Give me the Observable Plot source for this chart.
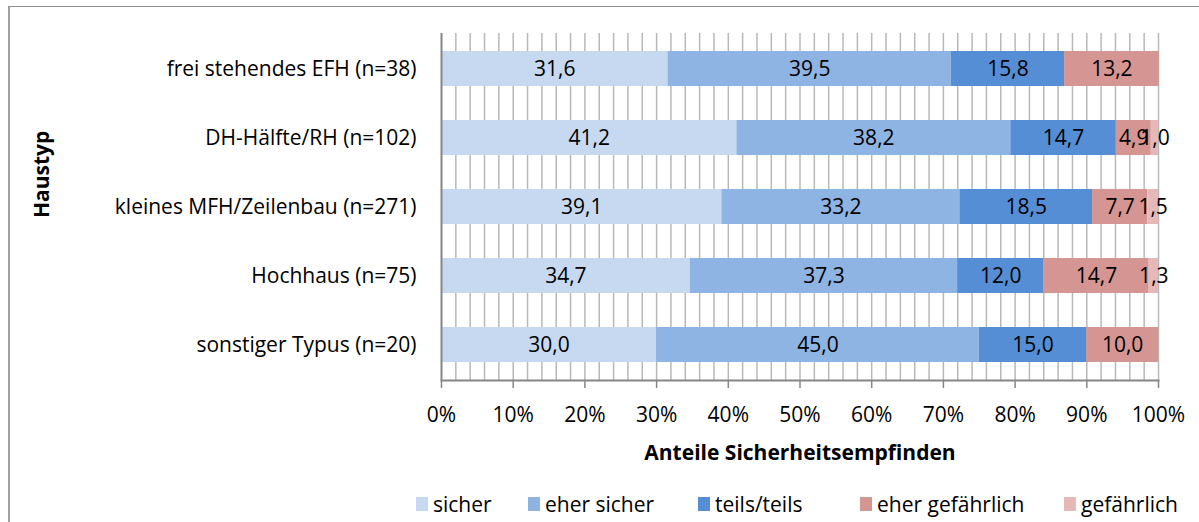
<!DOCTYPE html>
<html>
<head>
<meta charset="utf-8">
<script src="https://cdn.jsdelivr.net/npm/d3@7"></script>
<script src="https://cdn.jsdelivr.net/npm/@observablehq/plot@0.6"></script>
<style>
  html, body { margin: 0; padding: 0; background: #fff; }
  #wrap { position: relative; width: 1199px; height: 522px; overflow: hidden; font-family: "Open Sans", Lato, sans-serif; }
  #border { position: absolute; left: 8px; top: 6px; width: 1400px; height: 700px; border-left: 2px solid #a0a0a0; border-top: 1px solid #909090; }
  #chart { position: absolute; left: 0; top: 0; }
  #legend { position: absolute; left: 0; top: 489px; width: 1199px; height: 30px; font-size: 21px; color: #000; white-space: nowrap; }
  #legend .item { position: absolute; top: 0; display: flex; align-items: center; height: 30px; }
  #legend .sw { width: 12px; height: 14px; margin-right: 5px; }
</style>
</head>
<body>
<div id="wrap">
  <div id="border"></div>
  <div id="chart"></div>
  <div id="legend"></div>
</div>
<script>
const categories = ["frei stehendes EFH (n=38)", "DH-Hälfte/RH (n=102)", "kleines MFH/Zeilenbau (n=271)", "Hochhaus (n=75)", "sonstiger Typus (n=20)"];
const levels = ["sicher", "eher sicher", "teils/teils", "eher gefährlich", "gefährlich"];
const sicher     = [31.6, 41.2, 39.1, 34.7, 30.0];
const eherSicher = [39.5, 38.2, 33.2, 37.3, 45.0];
const teils      = [15.8, 14.7, 18.5, 12.0, 15.0];
const eherGef    = [13.2, 4.9, 7.7, 14.7, 10.0];
const gef        = [0, 1.0, 1.5, 1.3, 0];
const colors = ["#c6d9f1", "#8eb4e3", "#558ed5", "#d59592", "#e6b9b8"];
const xTicks = [0, 10, 20, 30, 40, 50, 60, 70, 80, 90, 100];

const series = [sicher, eherSicher, teils, eherGef, gef];
const data = [];
categories.forEach((c, i) => {
  levels.forEach((l, j) => data.push({cat: c, level: l, value: series[j][i]}));
});
const fmt = v => v.toFixed(1).replace(".", ",");

const chart = Plot.plot({
  width: 1199,
  height: 480,
  marginLeft: 441,
  marginRight: 41,
  marginTop: 33,
  marginBottom: 100,
  style: {fontFamily: "'Open Sans', Lato, sans-serif", fontSize: "21px", background: "transparent", color: "#000"},
  x: {domain: [0, 100]},
  y: {domain: categories, paddingInner: 0.5, paddingOuter: 0.25},
  color: {domain: levels, range: colors},
  marks: [
    Plot.ruleX(d3.range(2, 101, 2), {stroke: "#b8b8b8", strokeWidth: 1.5}),
    Plot.barX(data, Plot.stackX({x: "value", y: "cat", fill: "level", order: levels, inset: 0})),
    Plot.text(data.filter(d => d.value > 0), Plot.stackX({x: "value", y: "cat", z: "level", order: levels, text: d => fmt(d.value), fill: "#000", fontSize: 21})),
    Plot.ruleX([0], {stroke: "#868686", strokeWidth: 2}),
    Plot.frame({anchor: "bottom", stroke: "#868686", strokeWidth: 2}),
    Plot.axisX({ticks: xTicks, tickFormat: d => d + "%", tickSize: 8, tickPadding: 19, stroke: "#868686", strokeWidth: 1.5, fill: "#000", fontSize: 21, label: null}),
    Plot.axisY({tickSize: 0, tickPadding: 25, fill: "#000", fontSize: 21, label: null}),
    Plot.text(["Anteile Sicherheitsempfinden"], {frameAnchor: "bottom", lineAnchor: "bottom", dy: 79, fontWeight: "bold", fontSize: 21, fill: "#000"}),
    Plot.text(["Haustyp"], {frameAnchor: "left", rotate: -90, dx: -399, dy: 11, fontWeight: "bold", fontSize: 21, fill: "#000"})
  ]
});
document.getElementById("chart").appendChild(chart);

const legend = document.getElementById("legend");
const lefts = [416, 528, 698, 860, 1064];
levels.forEach((l, i) => {
  const it = document.createElement("div");
  it.className = "item";
  it.style.left = lefts[i] + "px";
  const sw = document.createElement("span");
  sw.className = "sw";
  sw.style.background = colors[i];
  const tx = document.createElement("span");
  tx.textContent = l;
  it.appendChild(sw);
  it.appendChild(tx);
  legend.appendChild(it);
});
</script>
</body>
</html>
